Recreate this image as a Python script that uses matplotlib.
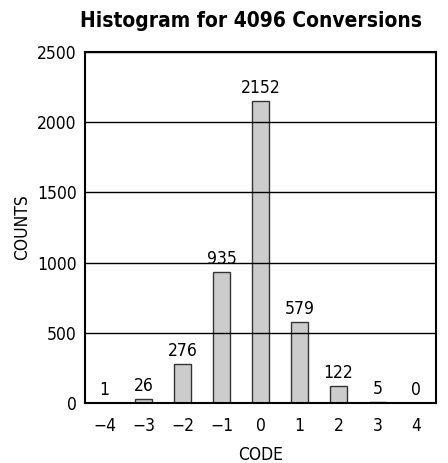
import numpy as np
import matplotlib.pyplot as plt

plt.rcParams['font.family'] = ['DejaVu Sans']
plt.rcParams['font.stretch'] = 'condensed'

codes = [-4, -3, -2, -1, 0, 1, 2, 3, 4]
counts = [1, 26, 276, 935, 2152, 579, 122, 5, 0]
code_labels = ['\u22124', '\u22123', '\u22122', '\u22121', '0', '1', '2', '3', '4']

fig = plt.figure(figsize=(4.48, 4.63), dpi=100)
ax = fig.add_axes([0.19, 0.1296, 0.783, 0.758])

ax.bar(codes, counts, width=0.42, color='#cccccc', edgecolor='#333333', linewidth=1.0, zorder=2)
for x, c in zip(codes, counts):
    ax.text(x, c + 30, str(c), ha='center', va='bottom', fontsize=12.5)

ax.set_xlim(-4.5, 4.5)
ax.set_ylim(0, 2500)
ax.set_yticks([0, 500, 1000, 1500, 2000, 2500])
ax.set_xticks(codes)
ax.set_xticklabels(code_labels)
ax.tick_params(axis='y', length=0, labelsize=12.5, pad=6)
ax.tick_params(axis='x', length=0, labelsize=12.5, pad=10)
ax.yaxis.grid(True, color='black', linewidth=1.0, zorder=3)
ax.set_axisbelow(False)
for s in ax.spines.values():
    s.set_linewidth(1.5)

ax.set_xlabel('CODE', fontsize=12.5, labelpad=8)
ax.set_ylabel('COUNTS', fontsize=12.5, labelpad=4)
fig.text(0.56, 0.955, 'Histogram for 4096 Conversions', ha='center', va='center',
         fontsize=15, fontweight='bold')

fig.savefig('out.png', dpi=100)
